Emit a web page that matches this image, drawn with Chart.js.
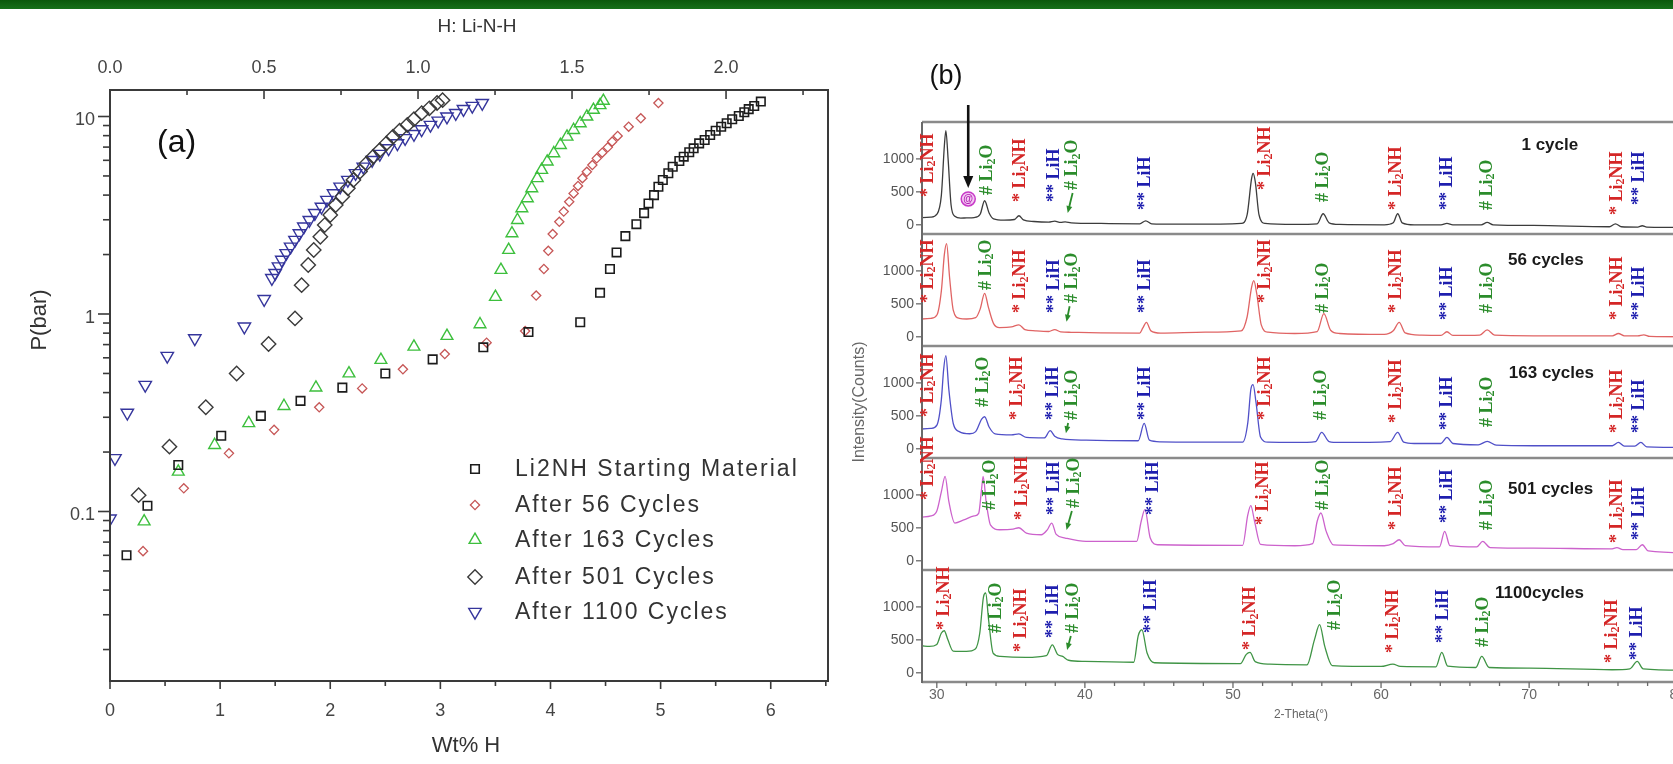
<!DOCTYPE html>
<html>
<head>
<meta charset="utf-8">
<script src="https://cdn.jsdelivr.net/npm/chart.js@4.4.1/dist/chart.umd.min.js"></script>
<style>
html,body{margin:0;padding:0;background:#ffffff;overflow:hidden;}
body{width:1673px;height:764px;position:relative;}
#bar{position:absolute;left:0;top:0;width:1673px;height:9px;background:linear-gradient(#0b580b,#17701a);}
canvas{position:absolute;top:0;}
</style>
</head>
<body>
<div id="bar"></div>
<canvas id="pct" width="840" height="764" style="left:0px"></canvas>
<canvas id="xrd0" width="850" height="764" style="left:840px"></canvas>
<canvas id="xrd1" width="850" height="764" style="left:840px"></canvas>
<canvas id="xrd2" width="850" height="764" style="left:840px"></canvas>
<canvas id="xrd3" width="850" height="764" style="left:840px"></canvas>
<canvas id="xrd4" width="850" height="764" style="left:840px"></canvas>
<script>
// ================= DATA: panel (a) PCT isotherms =================
const wtTicks = [0, 1, 2, 3, 4, 5, 6];
const hTicks = [0.0, 0.5, 1.0, 1.5, 2.0];
const pTicks = [0.1, 1, 10];
const seriesNames = ['Li2NH Starting Material', 'After 56 Cycles', 'After 163 Cycles', 'After 501 Cycles', 'After 1100 Cycles'];

const wtStart = [0.15,0.34,0.62,1.01,1.37,1.73,2.11,2.50,2.93,3.39,3.80,4.27,4.45,4.54,4.60,4.68,4.78,4.85,4.89,4.94,4.98,5.02,5.07,5.11,5.17,5.21,5.26,5.30,5.35,5.40,5.45,5.50,5.55,5.60,5.65,5.71,5.76,5.80,5.85,5.91];
const pStart  = [0.060,0.107,0.172,0.242,0.305,0.363,0.424,0.50,0.589,0.678,0.81,0.908,1.28,1.69,2.05,2.48,2.85,3.24,3.63,4.0,4.41,4.77,5.16,5.57,5.95,6.26,6.59,6.90,7.31,7.60,8.06,8.47,8.88,9.24,9.68,10.06,10.5,10.9,11.3,11.9];

const wt56 = [0.30,0.67,1.08,1.49,1.90,2.29,2.66,3.04,3.42,3.77,3.87,3.94,3.98,4.02,4.08,4.12,4.17,4.21,4.25,4.29,4.33,4.38,4.42,4.47,4.52,4.56,4.61,4.71,4.82,4.98];
const p56  = [0.063,0.131,0.197,0.259,0.337,0.42,0.525,0.627,0.716,0.82,1.24,1.69,2.09,2.54,2.93,3.30,3.70,4.08,4.45,4.87,5.25,5.68,6.14,6.56,6.98,7.46,7.97,8.88,9.79,11.7];

const wt163 = [0.31,0.62,0.95,1.26,1.58,1.87,2.17,2.46,2.76,3.06,3.36,3.50,3.55,3.62,3.65,3.70,3.74,3.79,3.83,3.88,3.92,3.97,4.03,4.09,4.15,4.21,4.27,4.33,4.39,4.45,4.48];
const p163  = [0.089,0.159,0.217,0.280,0.342,0.424,0.50,0.585,0.683,0.774,0.887,1.22,1.67,2.11,2.56,2.99,3.43,3.85,4.33,4.87,5.36,5.91,6.51,7.17,7.90,8.54,9.24,9.98,10.8,11.4,12.0];

const wt501 = [0.26,0.54,0.87,1.15,1.44,1.68,1.74,1.80,1.85,1.91,1.95,2.00,2.05,2.11,2.16,2.21,2.27,2.33,2.39,2.45,2.51,2.57,2.63,2.70,2.76,2.83,2.90,2.97,3.02];
const p501  = [0.121,0.213,0.337,0.50,0.705,0.95,1.40,1.77,2.11,2.46,2.82,3.17,3.56,3.93,4.33,4.77,5.26,5.79,6.26,6.76,7.31,7.90,8.47,9.06,9.68,10.4,11.0,11.7,12.1];

const wt1100 = [0.0,0.045,0.157,0.32,0.52,0.77,1.22,1.40,1.47,1.50,1.53,1.56,1.60,1.64,1.68,1.72,1.76,1.81,1.86,1.92,1.97,2.03,2.09,2.16,2.23,2.30,2.38,2.45,2.53,2.61,2.68,2.76,2.83,2.91,2.98,3.06,3.14,3.21,3.29,3.38];
const p1100  = [0.092,0.186,0.316,0.437,0.613,0.753,0.863,1.19,1.52,1.61,1.74,1.88,2.03,2.19,2.37,2.56,2.77,2.99,3.24,3.49,3.78,4.08,4.41,4.77,5.16,5.57,6.02,6.46,6.90,7.31,7.76,8.15,8.61,9.06,9.52,9.98,10.4,10.9,11.3,11.7];

// ================= DATA: panel (b) XRD patterns [2-theta, counts] =================
const thetaTicks = [30, 40, 50, 60, 70, 80];
const countTicks = [0, 500, 1000];
const cycleNames = ['1 cycle', '56 cycles', '163 cycles', '501 cycles', '1100cycles'];

const xrd1cycle = [[29.0,110],[29.6,115],[30.0,160],[30.3,450],[30.5,1200],[30.6,1430],[30.75,1000],[30.95,300],[31.2,130],[31.6,100],[32.0,105],[32.5,110],[32.9,160],[33.2,365],[33.5,180],[33.8,90],[34.5,70],[35.2,80],[35.5,137],[35.8,75],[36.5,50],[37.5,40],[37.9,55],[38.3,35],[38.6,45],[39.0,30],[41.0,20],[43.6,15],[44.0,60],[44.4,15],[46.0,10],[49.0,10],[50.4,20],[50.8,150],[51.1,700],[51.2,780],[51.35,650],[51.6,150],[52.0,20],[54.0,5],[55.5,15],[55.9,167],[56.3,30],[57.0,5],[60.0,0],[60.6,30],[60.9,167],[61.2,30],[62.0,0],[63.8,0],[64.2,20],[64.6,0],[66.5,0],[66.9,35],[67.3,0],[70.0,-10],[75.1,-30],[75.5,15],[75.9,-30],[77.0,-35],[77.3,-15],[77.6,-35],[80.5,-40]];
const xrd56 = [[29.0,270],[29.6,280],[30.0,330],[30.3,700],[30.5,1250],[30.65,1414],[30.85,900],[31.1,400],[31.5,280],[32.0,270],[32.6,290],[32.9,420],[33.2,660],[33.45,450],[33.8,200],[34.2,140],[35.0,150],[35.5,182],[35.9,110],[36.6,90],[37.5,80],[37.9,110],[38.3,75],[39.0,68],[41.0,60],[43.6,56],[43.8,130],[44.05,218],[44.35,90],[45.0,56],[48.0,70],[50.4,90],[50.8,300],[51.1,750],[51.25,851],[51.45,650],[51.75,180],[52.2,70],[54.0,50],[55.5,80],[55.95,350],[56.4,100],[57.0,50],[60.0,35],[60.6,90],[61.0,218],[61.4,60],[62.5,25],[63.8,20],[64.2,76],[64.6,20],[66.4,25],[66.9,106],[67.4,25],[70.0,15],[75.3,15],[75.7,50],[76.1,15],[77.0,15],[77.4,30],[77.8,5],[80.5,0]];
const xrd163 = [[29.0,300],[29.6,310],[30.0,360],[30.3,750],[30.45,1200],[30.6,1414],[30.8,900],[31.1,380],[31.5,260],[32.2,228],[32.6,260],[33.0,450],[33.2,486],[33.5,330],[33.9,225],[35.0,210],[35.5,225],[36.0,172],[37.2,165],[37.6,274],[37.9,190],[38.4,150],[40.0,130],[43.5,122],[43.9,385],[44.25,130],[45.0,106],[50.5,100],[50.85,400],[51.05,900],[51.2,973],[51.4,700],[51.7,180],[52.2,100],[54.0,96],[55.4,110],[55.8,248],[56.3,110],[57.0,96],[60.4,110],[60.9,248],[61.3,100],[62.0,80],[63.8,80],[64.2,172],[64.6,80],[66.3,60],[66.9,111],[67.5,55],[70.0,46],[75.3,46],[75.7,96],[76.1,40],[76.8,40],[77.2,96],[77.6,30],[80.5,20]];
const xrd501 = [[29.0,664],[29.6,680],[30.0,760],[30.3,1050],[30.55,1281],[30.8,900],[31.2,573],[31.8,620],[32.5,680],[32.8,720],[33.0,1100],[33.1,1281],[33.3,900],[33.6,540],[34.2,471],[35.1,480],[35.5,501],[36.0,420],[37.0,395],[37.4,470],[37.7,573],[38.0,400],[38.6,345],[40.0,294],[43.4,294],[43.7,600],[43.95,775],[44.3,350],[44.8,243],[50.5,235],[50.85,700],[51.05,836],[51.3,600],[51.7,250],[54.0,228],[55.2,260],[55.5,600],[55.75,725],[56.1,450],[56.6,240],[60.0,228],[60.6,260],[61.0,319],[61.4,230],[63.7,210],[64.05,446],[64.4,230],[66.2,210],[66.6,294],[67.1,200],[70.0,192],[75.2,180],[75.6,200],[76.0,170],[76.9,170],[77.3,243],[77.7,150],[80.5,121]];
const xrd1100 = [[29.0,410],[29.5,400],[30.0,430],[30.3,600],[30.5,638],[30.75,500],[31.1,330],[32.0,324],[32.6,360],[32.9,600],[33.15,1150],[33.3,1211],[33.5,800],[33.8,300],[34.3,248],[36.0,233],[37.4,260],[37.8,425],[38.15,280],[38.5,248],[38.9,190],[40.0,172],[43.3,160],[43.6,560],[43.85,653],[44.2,300],[44.7,152],[50.5,140],[50.9,280],[51.15,309],[51.5,170],[52.5,130],[55.0,120],[55.5,500],[55.85,730],[56.2,400],[56.7,110],[60.0,96],[60.8,132],[61.3,96],[63.7,90],[64.1,309],[64.5,100],[66.4,80],[66.8,248],[67.3,80],[70.0,71],[75.6,46],[76.8,60],[77.3,172],[77.7,60],[80.5,40]];

// phase labels: [phase, 2-theta, counts at the foot of the label]  (N = Li2NH, O = Li2O, H = LiH)
const peakLabels1cycle = [['N',29.4,422],['O',33.4,452],['N',35.6,346],['H',37.9,346],['O',39.1,528],['H',44.0,225],['N',52.0,528],['O',55.9,346],['N',60.8,225],['H',64.2,225],['O',66.9,225],['N',75.6,149],['H',77.1,301]];
const peakLabels56 = [['N',29.4,513],['O',33.3,710],['N',35.6,361],['H',37.9,361],['O',39.1,513],['H',44.0,361],['N',52.0,513],['O',55.9,361],['N',60.8,361],['H',64.2,255],['O',66.9,361],['N',75.6,255],['H',77.1,255]];
const peakLabels163 = [['N',29.4,483],['O',33.1,634],['N',35.4,437],['H',37.8,437],['O',39.1,437],['H',44.0,437],['N',52.0,437],['O',55.8,437],['N',60.8,392],['H',64.2,285],['O',66.9,331],['N',75.6,240],['H',77.1,240]];
const peakLabels501 = [['N',29.4,923],['O',33.6,771],['N',35.7,619],['H',37.9,695],['O',39.2,801],['H',44.5,695],['N',51.9,543],['O',55.9,771],['N',60.8,468],['H',64.2,574],['O',66.9,468],['N',75.6,270],['H',77.1,316]];
const peakLabels1100 = [['N',30.5,650],['O',34.0,604],['N',35.7,316],['H',37.9,528],['O',39.2,604],['H',44.5,604],['N',51.2,346],['O',56.9,650],['N',60.8,301],['H',64.2,452],['O',66.9,392],['N',75.6,149],['H',77.3,194]];
// green arrows to the weak Li2O reflection: [tail 2-theta, tail counts, tip 2-theta, tip counts]
const li2oArrows = [[39.1,483,38.77,179],[38.9,463,38.69,229],[38.8,392,38.65,235],[39.05,756,38.69,468],[39.05,559,38.8,346]];
// cycle captions anchor [2-theta, counts]
const cycleAnchors = [[69.2,1211],[68.3,1166],[68.35,1151],[68.3,1090],[67.7,1211]];

// ================= PANEL (a) =================
const pctX = [wtStart, wt56, wt163, wt501, wt1100];
const pctY = [pStart, p56, p163, p501, p1100];
const pctStyle = [
  {ps:'rect', rot:0, r:6, c:'#1c1c1c', bw:1.6},
  {ps:'rectRot', rot:0, r:4.6, c:'#c65656', bw:1.3},
  {ps:'triangle', rot:0, r:6.8, c:'#3dbf3d', bw:1.4},
  {ps:'rectRot', rot:0, r:7.2, c:'#3a3a3a', bw:1.4},
  {ps:'triangle', rot:180, r:7.2, c:'#35359c', bw:1.4}
];

function seg(ctx, x1, y1, x2, y2) { ctx.beginPath(); ctx.moveTo(x1, y1); ctx.lineTo(x2, y2); ctx.stroke(); }

const pctDeco = {
  id: 'pctDeco',
  afterDraw(chart) {
    const ctx = chart.ctx, a = chart.chartArea;
    const xs = chart.scales.x, x2 = chart.scales.x2, ys = chart.scales.y;
    ctx.save();
    ctx.strokeStyle = '#3a3a3a'; ctx.lineWidth = 2;
    ctx.strokeRect(a.left, a.top, a.right - a.left, a.bottom - a.top);
    ctx.lineWidth = 1.6;
    for (let e = -2; e <= 1; e++) for (let m = 1; m <= 9; m++) {
      const v = m * Math.pow(10, e);
      if (v < ys.min || v > ys.max) continue;
      const py = ys.getPixelForValue(v);
      seg(ctx, a.left - (m === 1 ? 12 : 7), py, a.left, py);
    }
    for (let k = 0; k <= 13; k++) {
      const px = xs.getPixelForValue(k * 0.5);
      if (px > a.right + 1) continue;
      seg(ctx, px, a.bottom, px, a.bottom + (k % 2 === 0 ? 8 : 5));
    }
    for (let k = 0; k <= 9; k++) {
      const px = x2.getPixelForValue(k * 0.25);
      if (px > a.right + 1) continue;
      seg(ctx, px, a.top, px, a.top + (k % 2 === 0 ? 9 : 5));
    }
    // axis titles
    ctx.fillStyle = '#333';
    ctx.textAlign = 'center'; ctx.textBaseline = 'middle';
    ctx.font = '19px "Liberation Sans", Arial';
    ctx.fillText('H: Li-N-H', 477, 27);
    ctx.font = '22px "Liberation Sans", Arial';
    ctx.fillText('Wt% H', 466, 746);
    ctx.save(); ctx.translate(40, 320); ctx.rotate(-Math.PI / 2);
    ctx.fillText('P(bar)', 0, 0); ctx.restore();
    ctx.fillStyle = '#111';
    ctx.font = '32px "Liberation Sans", Arial';
    ctx.textAlign = 'left';
    ctx.fillText('(a)', 157, 143);
    // legend
    ctx.font = '23px "Liberation Sans", Arial';
    try { ctx.letterSpacing = '2px'; } catch (e) {}
    const ly = [469, 505, 540, 577, 612];
    for (let i = 0; i < 5; i++) {
      const s = pctStyle[i];
      ctx.save();
      ctx.strokeStyle = s.c; ctx.fillStyle = 'rgba(0,0,0,0)'; ctx.lineWidth = s.bw;
      Chart.helpers.drawPoint(ctx, {pointStyle: s.ps, rotation: s.rot, radius: s.r, borderWidth: s.bw}, 475, ly[i]);
      ctx.restore();
      ctx.fillStyle = '#333';
      ctx.fillText(seriesNames[i], 515, ly[i] + 1);
    }
    ctx.restore();
  }
};

new Chart(document.getElementById('pct'), {
  type: 'scatter',
  data: {
    datasets: pctX.map((xs, i) => ({
      label: seriesNames[i],
      data: xs.map((w, j) => ({x: w, y: pctY[i][j]})),
      pointStyle: pctStyle[i].ps, rotation: pctStyle[i].rot, pointRadius: pctStyle[i].r,
      borderColor: pctStyle[i].c, backgroundColor: 'rgba(0,0,0,0)', borderWidth: pctStyle[i].bw,
      xAxisID: 'x', yAxisID: 'y'
    }))
  },
  options: {
    responsive: false, animation: false, devicePixelRatio: 1,
    layout: {padding: {left: 0, right: 12, top: 0, bottom: 0}},
    plugins: {legend: {display: false}, tooltip: {enabled: false}},
    scales: {
      x: {
        type: 'linear', position: 'bottom', min: 0, max: 6.52,
        afterFit: s => { s.height = 83; },
        afterBuildTicks: s => { s.ticks = wtTicks.map(v => ({value: v})); },
        ticks: {font: {family: '"Liberation Sans", Arial', size: 18}, color: '#444', padding: 19, maxRotation: 0, autoSkip: false, callback: v => String(v)},
        grid: {display: false, drawTicks: false}, border: {display: false}
      },
      x2: {
        type: 'linear', position: 'top', min: 0, max: 2.331,
        afterFit: s => { s.height = 90; },
        afterBuildTicks: s => { s.ticks = hTicks.map(v => ({value: v})); },
        ticks: {font: {family: '"Liberation Sans", Arial', size: 18}, color: '#444', padding: 11, maxRotation: 0, autoSkip: false, callback: v => Number(v).toFixed(1)},
        grid: {display: false, drawTicks: false}, border: {display: false}
      },
      y: {
        type: 'logarithmic', position: 'left', min: 0.01386, max: 13.62,
        afterFit: s => { s.width = 110; },
        afterBuildTicks: s => { s.ticks = pTicks.map(v => ({value: v})); },
        ticks: {font: {family: '"Liberation Sans", Arial', size: 18}, color: '#444', padding: 15, labelOffset: 4, autoSkip: false, callback: v => String(v)},
        grid: {display: false, drawTicks: false}, border: {display: false}
      }
    }
  },
  plugins: [pctDeco]
});

// ================= PANEL (b) =================
const xrdPatterns = [xrd1cycle, xrd56, xrd163, xrd501, xrd1100];
const xrdLabels = [peakLabels1cycle, peakLabels56, peakLabels163, peakLabels501, peakLabels1100];
const xrdColors = ['#3c3c3c', '#e06464', '#5050c8', '#cc62cc', '#3f9445'];
const panelTop = [122, 234, 346, 458, 570];
const PANEL_H = 112;
const phaseText = {N: [['* Li', 0], ['2', 1], ['NH', 0]], O: [['# Li', 0], ['2', 1], ['O', 0]], H: [['** LiH', 0]]};
const phaseColor = {N: '#d42626', O: '#2b8c2b', H: '#1e1eae'};

function drawPhase(ctx, ph, x, y) {
  ctx.save(); ctx.translate(x, y); ctx.rotate(-Math.PI / 2);
  ctx.fillStyle = phaseColor[ph]; ctx.textAlign = 'left'; ctx.textBaseline = 'middle';
  let cx = 0;
  for (const [t, sub] of phaseText[ph]) {
    ctx.font = sub ? 'bold 12px "Liberation Serif", serif' : 'bold 18px "Liberation Serif", serif';
    ctx.fillText(t, cx, sub ? 4 : 0);
    cx += ctx.measureText(t).width;
  }
  ctx.restore();
}
function arrow(ctx, x1, y1, x2, y2, color, lw, head) {
  const ang = Math.atan2(y2 - y1, x2 - x1), c = Math.cos(ang), s = Math.sin(ang);
  ctx.strokeStyle = color; ctx.fillStyle = color; ctx.lineWidth = lw;
  seg(ctx, x1, y1, x2 - c * head * 0.7, y2 - s * head * 0.7);
  ctx.beginPath(); ctx.moveTo(x2, y2);
  ctx.lineTo(x2 - head * c + head * 0.42 * s, y2 - head * s - head * 0.42 * c);
  ctx.lineTo(x2 - head * c - head * 0.42 * s, y2 - head * s + head * 0.42 * c);
  ctx.closePath(); ctx.fill();
}

function xrdDeco(i) {
  return {
    id: 'xrdDeco' + i,
    afterDraw(chart) {
      const ctx = chart.ctx, a = chart.chartArea, xs = chart.scales.x, ys = chart.scales.y;
      ctx.save();
      ctx.strokeStyle = '#8a8a8a'; ctx.lineWidth = 2.5;
      if (i === 0) seg(ctx, a.left, a.top, chart.width, a.top);
      seg(ctx, a.left, a.bottom, chart.width, a.bottom);
      ctx.strokeStyle = '#6a6a6a'; ctx.lineWidth = 2;
      seg(ctx, a.left, a.top, a.left, a.bottom + 1);
      ctx.lineWidth = 1.3;
      for (const v of countTicks) { const py = ys.getPixelForValue(v); seg(ctx, a.left - 6, py, a.left, py); }
      if (i === 4) {
        for (let v = 30; v <= 80; v += 2) { const px = xs.getPixelForValue(v); seg(ctx, px, a.bottom, px, a.bottom + (v % 10 === 0 ? 6 : 4)); }
        ctx.fillStyle = '#666'; ctx.font = '12px "Liberation Sans", Arial'; ctx.textAlign = 'center'; ctx.textBaseline = 'middle';
        ctx.fillText('2-Theta(°)', 1301 - 840, 715);
      }
      if (i === 2) {
        ctx.save(); ctx.translate(860 - 840, 402); ctx.rotate(-Math.PI / 2);
        ctx.fillStyle = '#666'; ctx.font = '16px "Liberation Sans", Arial'; ctx.textAlign = 'center'; ctx.textBaseline = 'middle';
        ctx.fillText('Intensity(Counts)', 0, 0); ctx.restore();
      }
      // phase labels
      for (const [ph, th, cnt] of xrdLabels[i]) drawPhase(ctx, ph, xs.getPixelForValue(th), ys.getPixelForValue(cnt));
      // arrow to weak Li2O line
      const ar = li2oArrows[i];
      arrow(ctx, xs.getPixelForValue(ar[0]), ys.getPixelForValue(ar[1]), xs.getPixelForValue(ar[2]), ys.getPixelForValue(ar[3]), '#2b8c2b', 1.8, 7);
      // cycle caption
      ctx.fillStyle = '#1a1a1a'; ctx.font = 'bold 17px "Liberation Sans", Arial'; ctx.textAlign = 'left'; ctx.textBaseline = 'middle';
      ctx.fillText(cycleNames[i], xs.getPixelForValue(cycleAnchors[i][0]), ys.getPixelForValue(cycleAnchors[i][1]));
      if (i === 0) {
        const ax = xs.getPixelForValue(32.1);
        arrow(ctx, ax, 105, ax, ys.getPixelForValue(559), '#111', 2.6, 12);
        const cy = ys.getPixelForValue(392);
        ctx.beginPath(); ctx.arc(ax, cy, 7, 0, Math.PI * 2);
        ctx.fillStyle = '#f4c8f4'; ctx.fill(); ctx.strokeStyle = '#c83ac8'; ctx.lineWidth = 1.5; ctx.stroke();
        ctx.fillStyle = '#b020b0'; ctx.font = 'bold 10px "Liberation Sans", Arial'; ctx.textAlign = 'center';
        ctx.fillText('@', ax, cy + 0.5);
        ctx.fillStyle = '#111'; ctx.font = '27px "Liberation Sans", Arial';
        ctx.fillText('(b)', 946 - 840, 77);
      }
      ctx.restore();
    }
  };
}

xrdPatterns.forEach((pat, i) => {
  const last = i === 4;
  new Chart(document.getElementById('xrd' + i), {
    type: 'line',
    data: {datasets: [{data: pat.map(p => ({x: p[0], y: p[1]})), borderColor: xrdColors[i], borderWidth: 1.3, pointRadius: 0, fill: false, cubicInterpolationMode: 'monotone'}]},
    options: {
      responsive: false, animation: false, devicePixelRatio: 1,
      layout: {padding: {left: 0, right: 0, top: panelTop[i], bottom: last ? 0 : (764 - panelTop[i] - PANEL_H)}},
      plugins: {legend: {display: false}, tooltip: {enabled: false}},
      scales: {
        x: {
          type: 'linear', min: 29.0, max: 80.5, display: last,
          afterFit: s => { s.height = last ? (764 - panelTop[i] - PANEL_H) : 0; },
          afterBuildTicks: s => { s.ticks = thetaTicks.map(v => ({value: v})); },
          ticks: {font: {family: '"Liberation Sans", Arial', size: 14}, color: '#666', padding: 5, maxRotation: 0, autoSkip: false, callback: v => String(v)},
          grid: {display: false, drawTicks: false}, border: {display: false}
        },
        y: {
          type: 'linear', min: -140, max: 1560,
          afterFit: s => { s.width = 82; },
          afterBuildTicks: s => { s.ticks = countTicks.map(v => ({value: v})); },
          ticks: {font: {family: '"Liberation Sans", Arial', size: 14}, color: '#555', padding: 8, autoSkip: false, callback: v => String(v)},
          grid: {display: false, drawTicks: false}, border: {display: false}
        }
      }
    },
    plugins: [xrdDeco(i)]
  });
});
</script>
</body>
</html>
